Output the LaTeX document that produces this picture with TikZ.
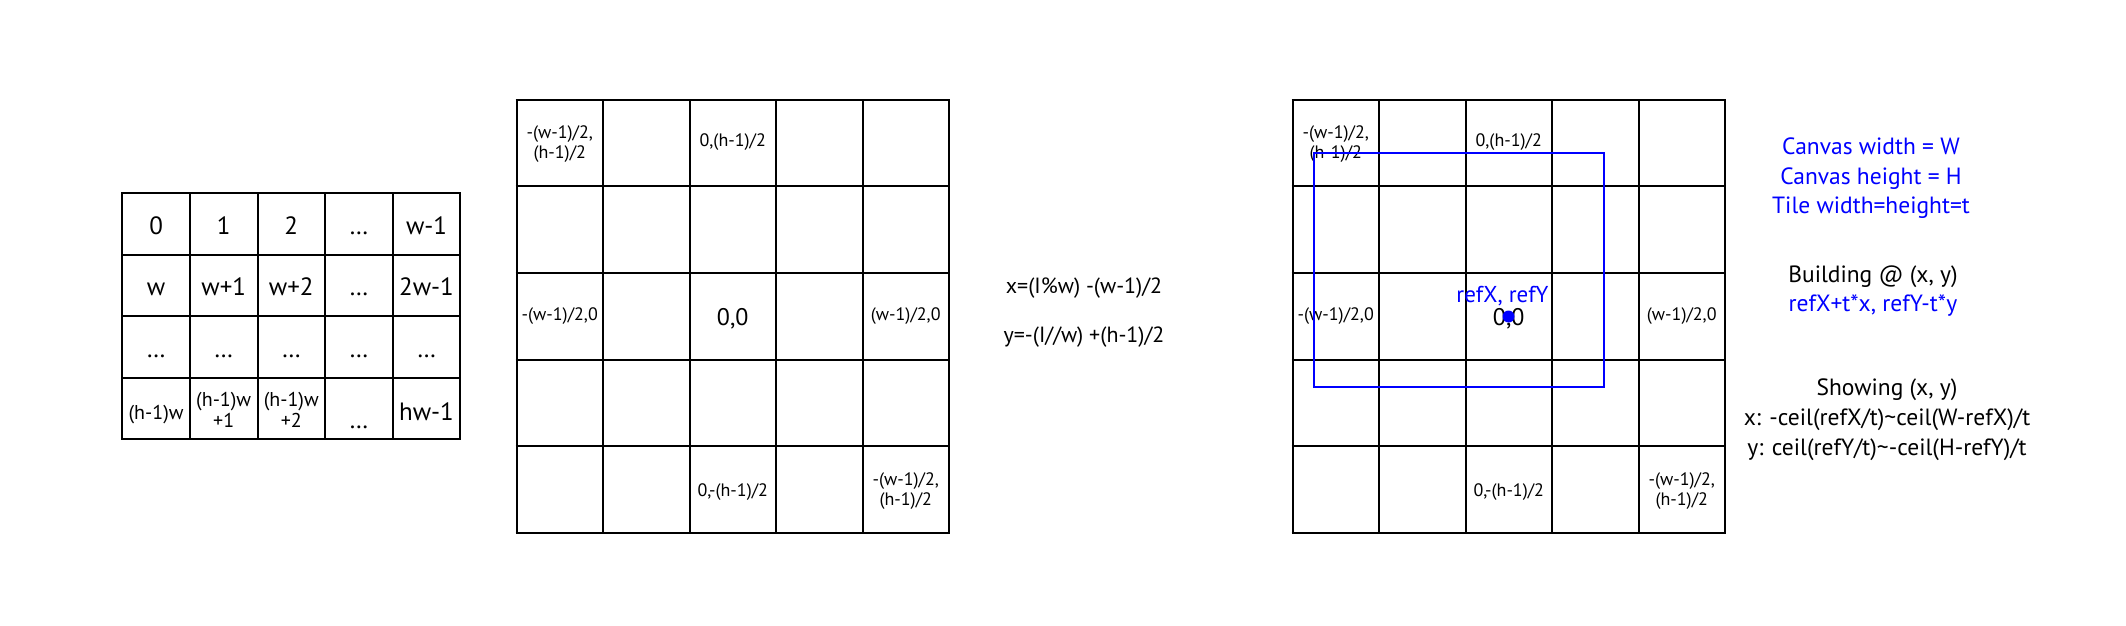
\documentclass[tikz,border=0pt]{standalone}
\usepackage{fontspec}
\setmainfont{PT Sans}
\definecolor{refblue}{RGB}{0,0,255}
\tikzset{
  gridline/.style={line width=2pt, black},
  big/.style={font=\fontsize{25}{27}\selectfont, inner sep=0pt, anchor=base},
  small/.style={font=\fontsize{20}{21.5}\selectfont, inner sep=0pt, align=center},
  lbl/.style={font=\fontsize{18}{20.5}\selectfont, inner sep=0pt, align=center},
  zero/.style={font=\fontsize{24}{26}\selectfont, inner sep=0pt, anchor=base},
  formula/.style={font=\fontsize{22}{24}\selectfont, inner sep=0pt, anchor=base},
  info/.style={font=\fontsize{23.5}{25}\selectfont, inner sep=0pt, anchor=base},
  bluebox/.style={line width=2pt, refblue},
}
\begin{document}
\begin{tikzpicture}[x=1pt,y=-1pt]
\useasboundingbox (0,0) rectangle (2126,626);
\fill[white] (0,0) rectangle (2126,626);

% ---------- left grid ----------
\foreach \i in {0,...,5} \draw[gridline] (122.3+\i*67.6,193) -- (122.3+\i*67.6,439.4);
\foreach \j in {0,...,4} \draw[gridline] (121.3,193+\j*61.6) -- (461.3,193+\j*61.6);

\node[big] (a00) at (156.1,234) {0};
\node[big] (a01) at (223.7,234) {1};
\node[big] (a02) at (291.3,234) {2};
\node[big] (a03) at (358.9,234) {…};
\node[big] (a04) at (426.5,234) {w-1};

\node[big] (a10) at (156.1,295.5) {w};
\node[big] (a11) at (223.7,295.5) {w+1};
\node[big] (a12) at (291.3,295.5) {w+2};
\node[big] (a13) at (358.9,295.5) {…};
\node[big] (a14) at (426.5,295.5) {2w-1};

\node[big] (a20) at (156.1,357) {…};
\node[big] (a21) at (223.7,357) {…};
\node[big] (a22) at (291.3,357) {…};
\node[big] (a23) at (358.9,357) {…};
\node[big] (a24) at (426.5,357) {…};

\node[small, anchor=base] (a30) at (156.1,419) {(h-1)w};
\node[small] (a31) at (223.7,410) {(h-1)w\\+1};
\node[small] (a32) at (291.3,410) {(h-1)w\\+2};
\node[big] (a33) at (358.9,428) {…};
\node[big] (a34) at (426.5,420) {hw-1};

% ---------- middle grid ----------
\foreach \i in {0,...,5} \draw[gridline] (516.5+\i*86.5,99.5) -- (516.5+\i*86.5,533);
\foreach \j in {0,...,5} \draw[gridline] (515.5,99.5+\j*86.7) -- (950,99.5+\j*86.7);

\node[lbl] (m00) at (559.75,144) {-(w-1)/2,\\(h-1)/2};
\node[lbl] (m02) at (732.75,142) {0,(h-1)/2};
\node[lbl] (m20) at (559.75,316.5) {-(w-1)/2,0};
\node[zero] (m22) at (732.75,325) {0,0};
\node[lbl] (m24) at (905.75,316.5) {(w-1)/2,0};
\node[lbl] (m42) at (732.75,492) {0,-(h-1)/2};
\node[lbl] (m44) at (905.75,491) {-(w-1)/2,\\(h-1)/2};

% ---------- formulas ----------
\node[formula] (f1) at (1084,293) {x=(I\%w) -(w-1)/2};
\node[formula] (f2) at (1084,342) {y=-(I//w) +(h-1)/2};

% ---------- right grid ----------
\foreach \i in {0,...,5} \draw[gridline] (1292.5+\i*86.5,99.5) -- (1292.5+\i*86.5,533);
\foreach \j in {0,...,5} \draw[gridline] (1291.5,99.5+\j*86.7) -- (1726,99.5+\j*86.7);

\node[lbl] (r00) at (1335.75,144) {-(w-1)/2,\\(h-1)/2};
\node[lbl] (r02) at (1508.75,142) {0,(h-1)/2};
\node[lbl] (r20) at (1335.75,316.5) {-(w-1)/2,0};
\node[zero] (r22) at (1508.75,325) {0,0};
\node[lbl] (r24) at (1681.75,316.5) {(w-1)/2,0};
\node[lbl] (r42) at (1508.75,492) {0,-(h-1)/2};
\node[lbl] (r44) at (1681.75,491) {-(w-1)/2,\\(h-1)/2};

% blue viewport
\draw[bluebox] (1313.5,153) rectangle (1603.5,386.5);
\fill[refblue] (1508.5,316.5) circle (6);
\node[font=\fontsize{23}{25}\selectfont, text=refblue, inner sep=0pt, anchor=base] (ref) at (1502.5,302) {refX, refY};

% ---------- info text ----------
\node[info, text=refblue] (t1) at (1871,154) {Canvas width = W};
\node[info, text=refblue] (t2) at (1871,184) {Canvas height = H};
\node[info, text=refblue] (t3) at (1871,213) {Tile width=height=t};
\node[info] (t4) at (1873,282) {Building @ (x, y)};
\node[info, text=refblue] (t5) at (1873,311.5) {refX+t*x, refY-t*y};
\node[info] (t6) at (1887,395) {Showing (x, y)};
\node[info] (t7) at (1887,425) {x: -ceil(refX/t)\textasciitilde ceil(W-refX)/t};
\node[info] (t8) at (1887,455) {y: ceil(refY/t)\textasciitilde -ceil(H-refY)/t};
\end{tikzpicture}
\end{document}
